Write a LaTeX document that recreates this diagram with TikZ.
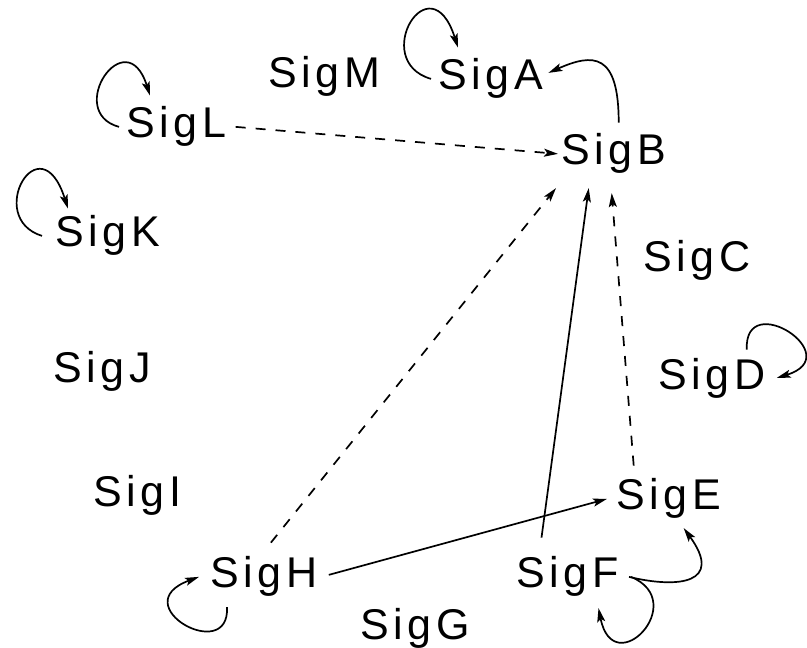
\documentclass[tikz,border=0pt]{standalone}
\usepackage{fontspec}
\setmainfont{Liberation Sans}[LetterSpace=11]
\usetikzlibrary{arrows.meta,calc}

\begin{document}
\begin{tikzpicture}[x=1pt, y=1pt,
    sigStyle/.style={
        inner sep=3pt, anchor=base west, font=\fontsize{43}{50}\selectfont
    },
    arrowStyle/.style={-{Stealth[length=14pt,width=8pt,inset=3pt]}, line width=1.7pt, draw=black},
    dashStyle/.style={arrowStyle, dash pattern=on 10pt off 10pt}
]
    \useasboundingbox (0,0) rectangle (807,648);

    % Factors
    \node[sigStyle] (SigM) at (265,560) {SigM};
    \node[sigStyle] (SigA) at (435,558) {SigA};
    \node[sigStyle] (SigL) at (123,510) {SigL};
    \node[sigStyle] (SigB) at (558,483) {SigB};
    \node[sigStyle] (SigK) at (52,401) {SigK};
    \node[sigStyle] (SigC) at (640,376) {SigC};
    \node[sigStyle] (SigJ) at (50,265) {SigJ};
    \node[sigStyle] (SigD) at (655,258) {SigD};
    \node[sigStyle] (SigI) at (90,141) {SigI};
    \node[sigStyle] (SigE) at (613,138) {SigE};
    \node[sigStyle] (SigH) at (207,60) {SigH};
    \node[sigStyle] (SigF) at (513,60) {SigF};
    \node[sigStyle] (SigG) at (357,8) {SigG};

    % Self loops
    \draw[arrowStyle] ($(SigA.west)+(-4,0)$) .. controls +(-62,18) and +(-28,88) .. ($(SigA.north west)+(23,8)$);
    \draw[arrowStyle] ($(SigL.west)+(-4,0)$) .. controls +(-55,15) and +(-24,76) .. ($(SigL.north west)+(27,8)$);
    \draw[arrowStyle] ($(SigK.west)+(-10,0)$) .. controls +(-58,18) and +(-28,88) .. ($(SigK.north west)+(16,4)$);
    \draw[arrowStyle] ($(SigD.north east)+(-22,6)$) .. controls +(-3,62) and +(72,22) .. ($(SigD.east)+(8,1)$);
    \draw[arrowStyle] ($(SigH.south west)+(20,-7)$) .. controls +(3,-58) and +(-76,-28) .. ($(SigH.west)+(-8,0)$);
    \draw[arrowStyle] ($(SigF.east)+(9,0)$) .. controls +(60,-25) and +(15,-75) .. ($(SigF.south)+(31,-8)$);

    % Regulation
    \draw[arrowStyle] ($(SigB.north)+(5,8)$) .. controls +(0,70) and +(45,20) .. ($(SigA.east)+(2,6)$);
    \draw[arrowStyle] ($(SigF.east)+(7,0)$) .. controls +(50,-12) and +(40,-55) .. ($(SigE.south)+(15,-6)$);
    \draw[arrowStyle] ($(SigH.east)+(8,2)$) -- ($(SigE.west)+(-6,0)$);
    \draw[arrowStyle] ($(SigF.north)+(-26,16)$) -- ($(SigB.south)+(-25,-11)$);
    \draw[dashStyle] ($(SigL.east)+(6,0)$) -- (SigB.west);
    \draw[dashStyle] ($(SigH.north)+(7,11)$) -- ($(SigB.south west)+(-2,-11)$);
    \draw[dashStyle] ($(SigE.north)+(-35,10)$) -- ($(SigB.south)+(-2,-16)$);
\end{tikzpicture}
\end{document}
